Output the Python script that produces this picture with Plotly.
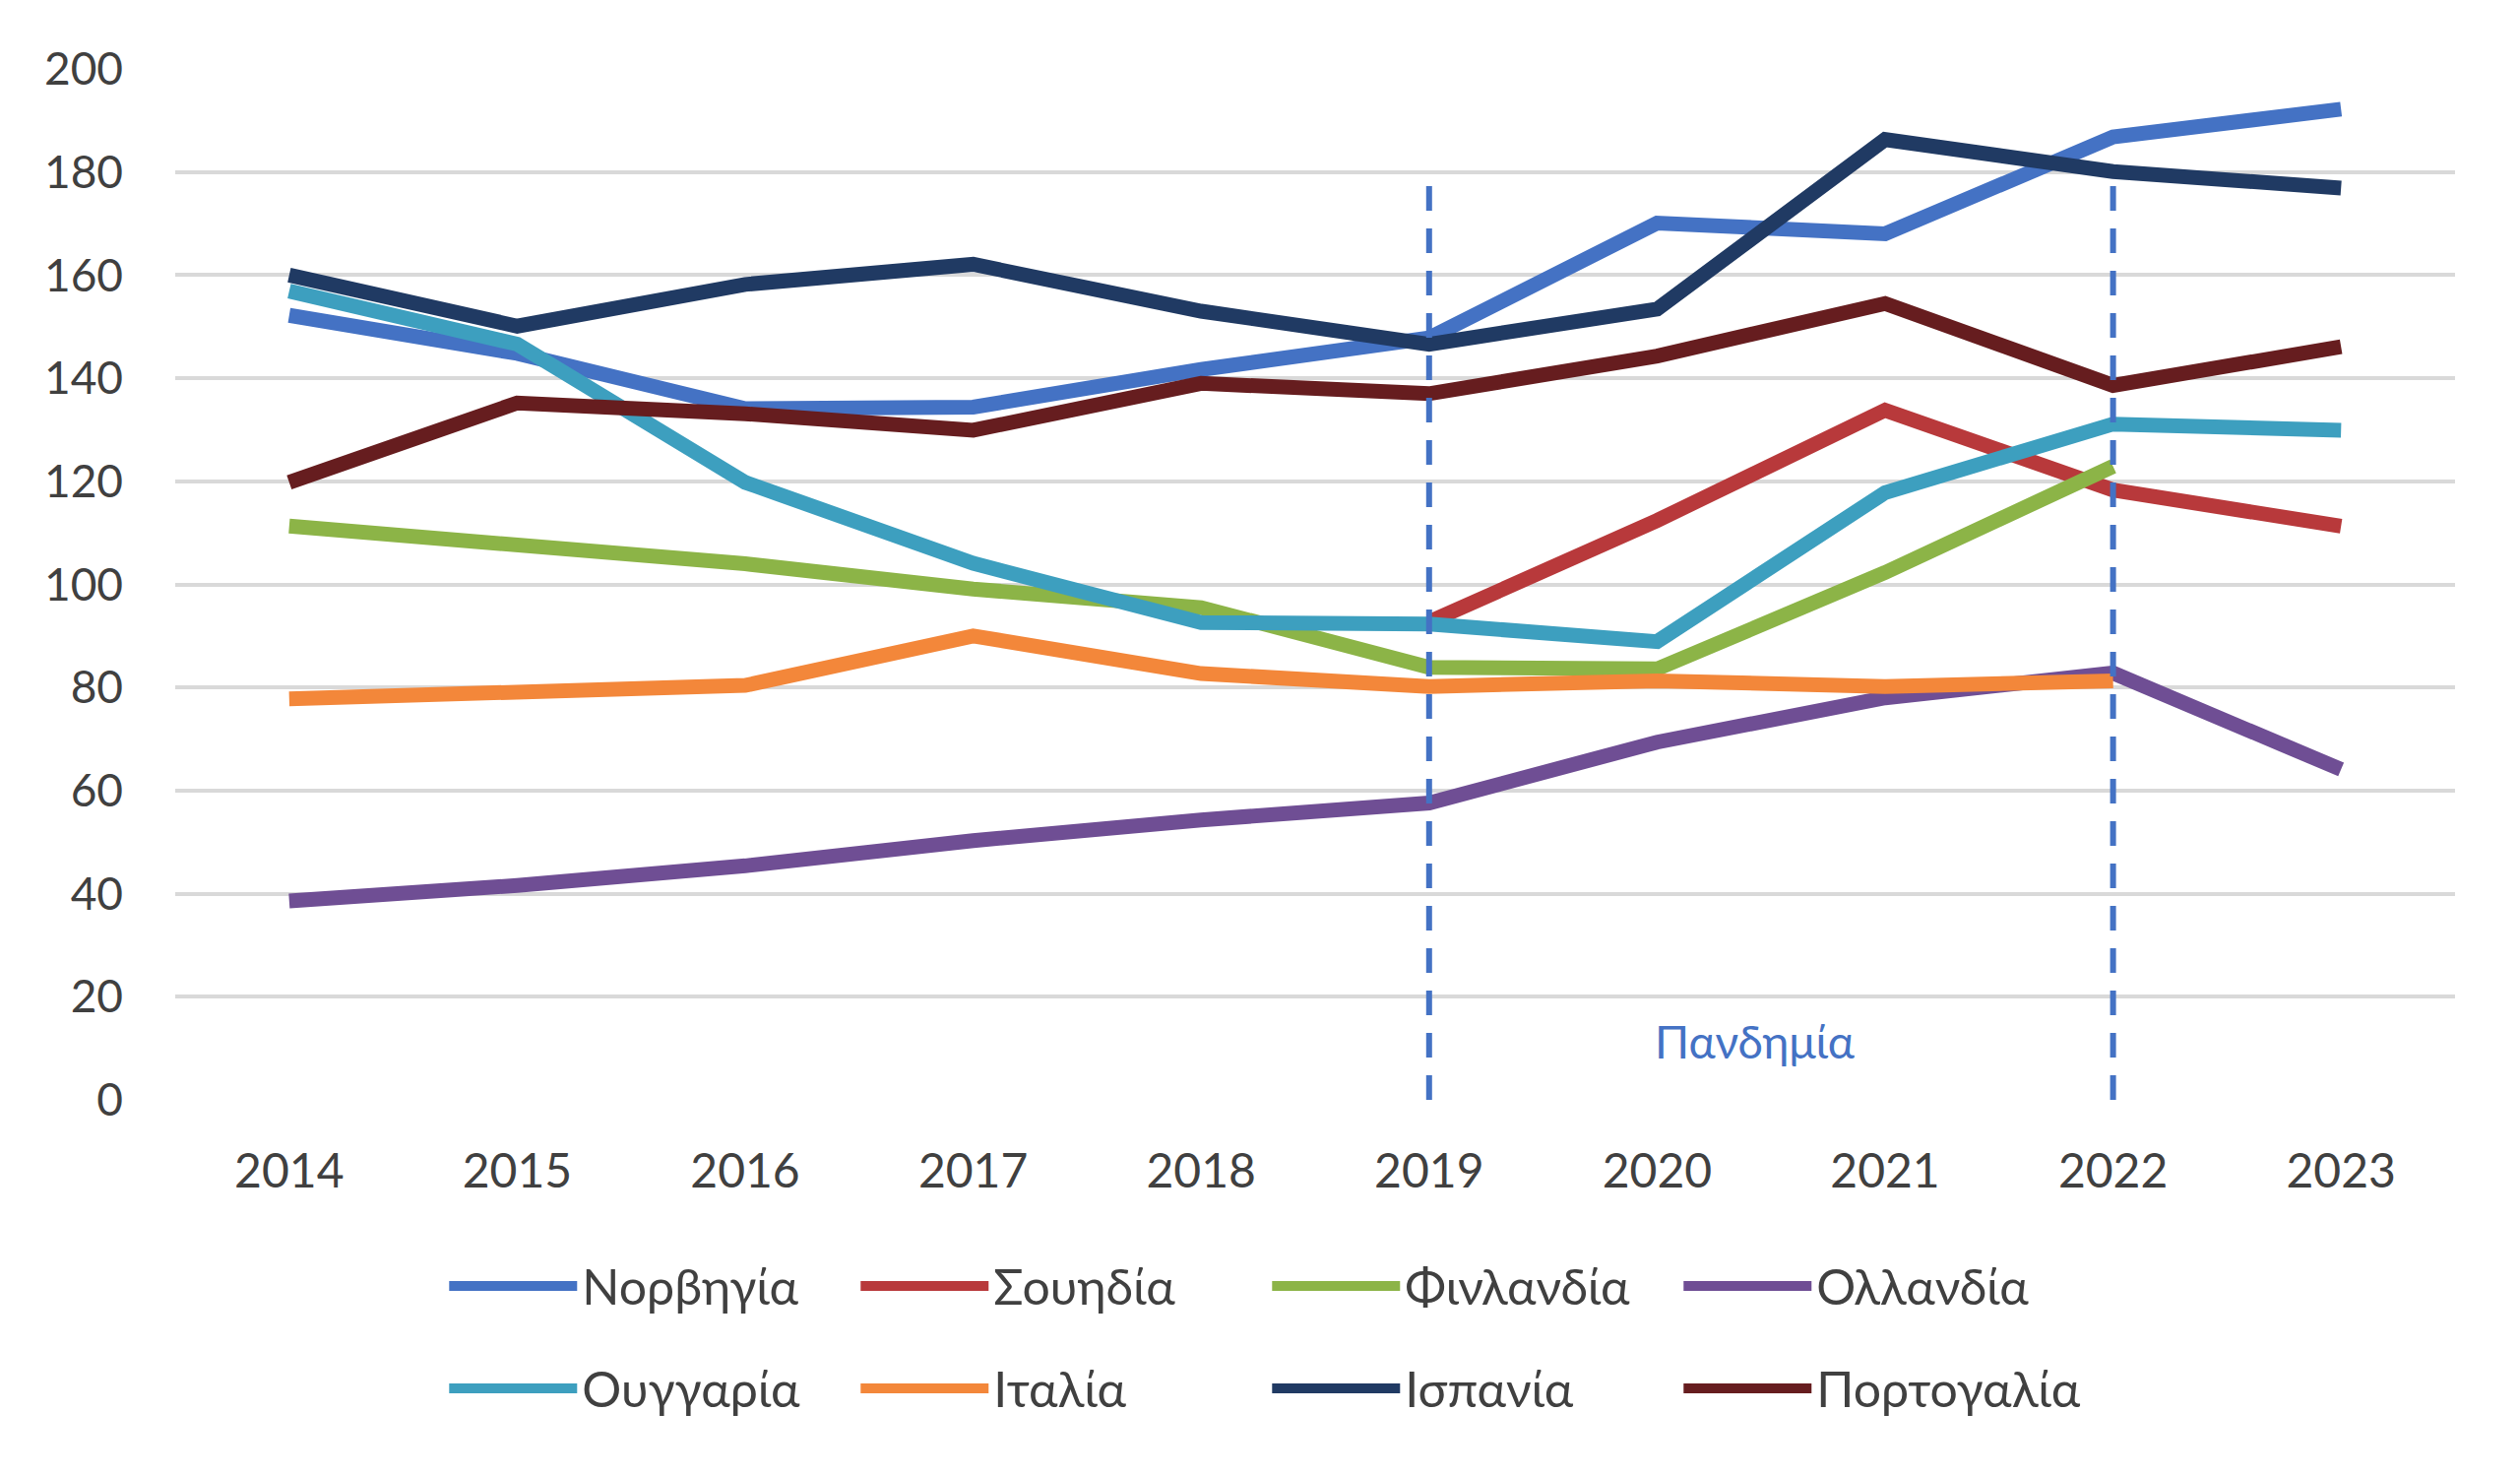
import plotly.graph_objects as go

years = ["2014", "2015", "2016", "2017", "2018", "2019", "2020", "2021", "2022", "2023"]

norway = [152.2, 144.8, 134.1, 134.4, 141.7, 147.8, 170.1, 168.0, 186.8, 192.2]
sweden = [None, None, None, None, None, 92.7, 112.4, 133.8, 118.3, 111.3]
finland = [111.3, 107.8, 104.0, 99.1, 95.5, 83.9, 83.6, 102.3, 122.9, None]
netherlands = [38.6, 41.6, 45.4, 50.3, 54.3, 57.6, 69.4, 78.0, 82.8, 64.1]
hungary = [156.9, 146.6, 119.8, 104.1, 92.6, 92.3, 88.9, 117.8, 131.1, 129.9]
italy = [77.8, 79.3, 80.4, 90.0, 82.7, 80.2, 81.3, 80.2, 81.3, None]
spain = [160.0, 150.1, 158.2, 162.1, 153.0, 146.6, 153.4, 186.3, 180.1, 176.9]
portugal = [119.8, 135.2, 133.1, 129.9, 139.0, 137.0, 144.3, 154.5, 138.6, 146.1]

series_names = ["Νορβηγία", "Σουηδία", "Φινλανδία", "Ολλανδία",
                "Ουγγαρία", "Ιταλία", "Ισπανία", "Πορτογαλία"]
series_values = [norway, sweden, finland, netherlands, hungary, italy, spain, portugal]
colors = ["#4472C4", "#B8393B", "#8CB447", "#6F4E94",
          "#3D9FBF", "#F3873A", "#203A63", "#661D1F"]
legend_ids = ["legend", "legend", "legend", "legend",
              "legend2", "legend2", "legend2", "legend2"]

pandemic_years = ["2019", "2022"]
pandemic_top = 178
pandemic_label = "Πανδημία"

yticks = [0, 20, 40, 60, 80, 100, 120, 140, 160, 180, 200]

FONT = "Lato, 'Open Sans', sans-serif"
TXT = "#404040"

fig = go.Figure()
for name, vals, col, lg in zip(series_names, series_values, colors, legend_ids):
    fig.add_trace(go.Scatter(
        x=years, y=vals, name=name, mode="lines",
        line=dict(color=col, width=15),
        legend=lg, connectgaps=False,
    ))

for yr in pandemic_years:
    fig.add_trace(go.Scatter(
        x=[yr, yr], y=[0, pandemic_top], mode="lines",
        line=dict(color="#4472C4", width=6, dash="25px,18px"),
        showlegend=False, hoverinfo="skip",
    ))

fig.add_annotation(
    x=6.43, y=11.3, xref="x", yref="y", text=pandemic_label, showarrow=False,
    font=dict(family=FONT, size=46, color="#4472C4"),
)

legend_common = dict(
    orientation="h", xanchor="left", yanchor="middle",
    font=dict(family=FONT, size=50, color=TXT),
    itemwidth=130, entrywidth=273, bgcolor="rgba(0,0,0,0)",
    itemclick=False, itemdoubleclick=False,
)

fig.update_layout(
    width=2560, height=1499,
    margin=dict(l=170, r=74, t=62, b=390),
    paper_bgcolor="white", plot_bgcolor="white",
    font=dict(family=FONT, size=46, color=TXT),
    showlegend=True,
    legend=dict(x=0.118, y=-0.1805, **legend_common),
    legend2=dict(x=0.118, y=-0.2798, **legend_common),
    xaxis=dict(
        type="category", range=[-0.5, 9.5], showgrid=False, showline=False,
        zeroline=False, ticks="", ticklabelstandoff=40,
        tickfont=dict(family=FONT, size=48, color=TXT),
    ),
    yaxis=dict(
        range=[0, 200], tickvals=yticks, showgrid=True, gridcolor="#D9D9D9",
        gridwidth=4, zeroline=False, showline=False, ticks="",
        ticklabelstandoff=52,
        tickfont=dict(family=FONT, size=46, color=TXT),
    ),
)

fig.write_html("out.html")
